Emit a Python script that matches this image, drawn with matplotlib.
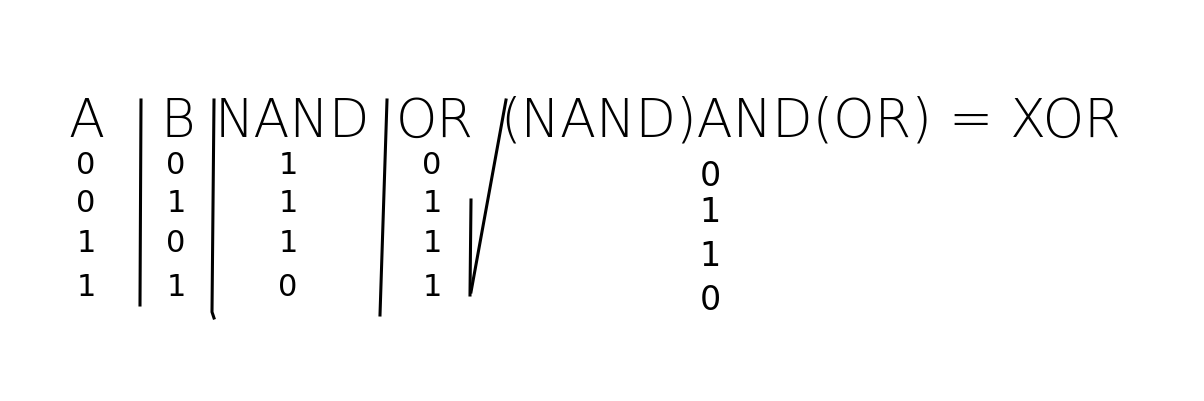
import matplotlib
matplotlib.use("Agg")
import matplotlib.pyplot as plt

# truth table values
col_a = [0, 0, 1, 1]
col_b = [0, 1, 0, 1]
col_nand = [1, 1, 1, 0]
col_or = [0, 1, 1, 1]
col_xor = [0, 1, 1, 0]

headers = ["A", "B", "NAND", "OR", "(NAND)AND(OR)", "= XOR"]

plt.rcParams['font.family'] = ['Liberation Sans Narrow', 'DejaVu Sans']

fig = plt.figure(figsize=(12.04, 4.01), dpi=100)
ax = fig.add_axes([0, 0, 1, 1])
ax.set_xlim(0, 1204)
ax.set_ylim(401, 0)
ax.axis('off')

# header row
head_x = [86, 178, 292, 435, 716, 1035]
for x, h in zip(head_x, headers):
    ax.text(x, 122, h, ha='center', va='center', fontsize=38, fontweight='light')

# body columns
row_y = [165, 203, 243, 287]
xor_y = [176, 212, 256, 300]
cols = [(86, col_a), (176, col_b), (288, col_nand), (432, col_or)]
for x, vals in cols:
    for y, v in zip(row_y, vals):
        ax.text(x, y, str(v), ha='center', va='center', fontsize=22)
for y, v in zip(xor_y, col_xor):
    ax.text(710, y, str(v), ha='center', va='center', fontsize=24)

# separators
lw = 2.2
ax.plot([141, 140], [100, 305], color='black', lw=lw)
ax.plot([214, 212, 214], [100, 312, 318], color='black', lw=lw)
ax.plot([387, 380], [100, 315], color='black', lw=lw)
ax.plot([506, 471], [100, 292], color='black', lw=lw)
ax.plot([471, 470], [200, 295], color='black', lw=lw)

fig.savefig("out.png", dpi=100, facecolor='white')
